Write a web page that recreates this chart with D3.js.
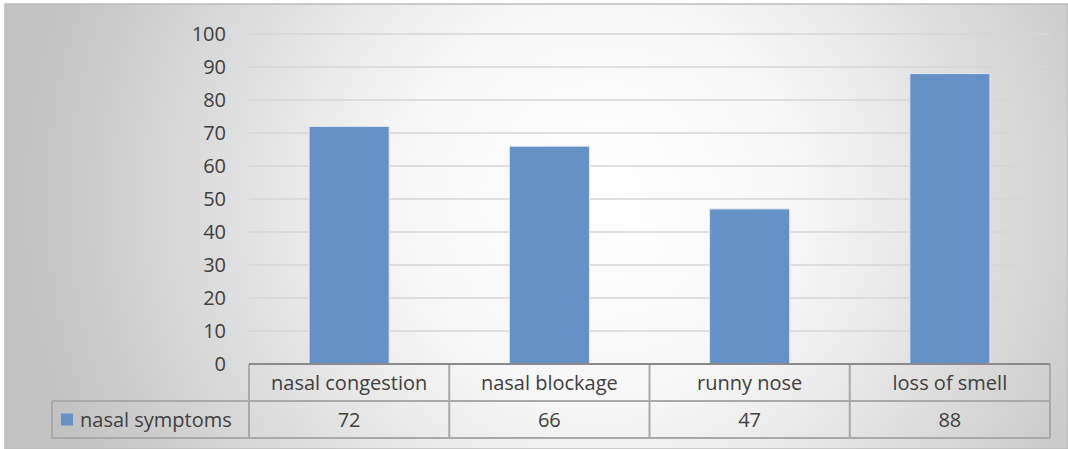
<!DOCTYPE html>
<html>
<head>
<meta charset="utf-8">
<script src="https://cdn.jsdelivr.net/npm/d3@7"></script>
<style>
  body { margin: 0; background: #fff; }
  text { font-family: 'Open Sans', sans-serif; fill: #404040; }
</style>
</head>
<body>
<div id="root"></div>
<script>
var categories = ['nasal congestion', 'nasal blockage', 'runny nose', 'loss of smell'];
var values = [72, 66, 47, 88];
var seriesName = 'nasal symptoms';
var yTicks = [0, 10, 20, 30, 40, 50, 60, 70, 80, 90, 100];

var W = 1068, H = 449;
var margin = { top: 34, right: 18, bottom: 85, left: 249 },
  width = W - margin.left - margin.right,
  height = H - margin.top - margin.bottom;
var rowH = 37;
var fs = '20px';

var svg = d3.select('#root')
  .append('svg')
    .attr('width', W)
    .attr('height', H);

var grad = svg.append('defs').append('radialGradient')
  .attr('id', 'bg')
  .attr('gradientUnits', 'userSpaceOnUse')
  .attr('cx', 600).attr('cy', 200).attr('r', 580);
grad.append('stop').attr('offset', '0%').attr('stop-color', '#ffffff');
grad.append('stop').attr('offset', '35%').attr('stop-color', '#f7f7f7');
grad.append('stop').attr('offset', '100%').attr('stop-color', '#c2c2c2');

svg.append('rect')
  .attr('x', 5).attr('y', 4)
  .attr('width', W - 5).attr('height', H - 4)
  .attr('fill', 'url(#bg)')
  .attr('stroke', '#bcbcbc')
  .attr('stroke-width', 1.5);

var g = svg.append('g')
  .attr('transform', 'translate(' + margin.left + ', ' + margin.top + ')');

var yScale = d3.scaleLinear()
  .domain([0, 100])
  .range([height, 0]);

var xScale = d3.scaleBand()
  .domain(categories)
  .range([0, width])
  .paddingInner(0.6)
  .paddingOuter(0.3);

var colScale = d3.scaleBand()
  .domain(categories)
  .range([0, width]);

// gridlines
g.append('g')
  .attr('class', 'grid')
  .selectAll('line')
  .data(yTicks.filter(t => t > 0))
  .enter()
  .append('line')
    .attr('x1', 0)
    .attr('x2', width)
    .attr('y1', t => yScale(t))
    .attr('y2', t => yScale(t))
    .attr('stroke', '#d6d6d6')
    .attr('stroke-width', 1.5);

var yAxisCall = d3.axisLeft(yScale)
  .tickValues(yTicks)
  .tickSize(0)
  .tickPadding(23);

var yAxis = g.append('g')
  .attr('class', 'y-axis')
  .call(yAxisCall);
yAxis.select('.domain').remove();
yAxis.selectAll('text')
  .attr('font-size', fs)
  .attr('font-family', "'Open Sans', sans-serif")
  .attr('fill', '#404040');

// bars
g.selectAll('rect.bar')
  .data(values)
  .enter()
  .append('rect')
    .attr('class', 'bar')
    .attr('x', (d, i) => xScale(categories[i]))
    .attr('y', d => yScale(d))
    .attr('width', xScale.bandwidth())
    .attr('height', d => height - yScale(d))
    .attr('fill', '#6591c7')
    .attr('stroke', '#dfe8f3')
    .attr('stroke-width', 1);

// data table
var legendLeft = 52 - margin.left;
var tbl = g.append('g').attr('class', 'table');
var bc = '#a9a9a9';

tbl.append('line')
  .attr('x1', legendLeft).attr('x2', width)
  .attr('y1', height + rowH).attr('y2', height + rowH)
  .attr('stroke', bc).attr('stroke-width', 2);
tbl.append('line')
  .attr('x1', legendLeft).attr('x2', width)
  .attr('y1', height + 2 * rowH).attr('y2', height + 2 * rowH)
  .attr('stroke', bc).attr('stroke-width', 2);

var vx = [0].concat(categories.map(c => colScale(c) + colScale.bandwidth()));
tbl.selectAll('line.v')
  .data(vx)
  .enter()
  .append('line')
    .attr('class', 'v')
    .attr('x1', d => d).attr('x2', d => d)
    .attr('y1', height).attr('y2', height + 2 * rowH)
    .attr('stroke', bc).attr('stroke-width', 2);
tbl.append('line')
  .attr('x1', legendLeft).attr('x2', legendLeft)
  .attr('y1', height + rowH).attr('y2', height + 2 * rowH)
  .attr('stroke', bc).attr('stroke-width', 2);

tbl.selectAll('text.cat')
  .data(categories)
  .enter()
  .append('text')
    .attr('class', 'cat')
    .attr('x', c => colScale(c) + colScale.bandwidth() / 2)
    .attr('y', height + rowH / 2)
    .attr('dy', '0.35em')
    .attr('text-anchor', 'middle')
    .attr('font-size', fs)
    .text(c => c);

tbl.selectAll('text.val')
  .data(values)
  .enter()
  .append('text')
    .attr('class', 'val')
    .attr('x', (d, i) => colScale(categories[i]) + colScale.bandwidth() / 2)
    .attr('y', height + rowH * 1.5)
    .attr('dy', '0.35em')
    .attr('text-anchor', 'middle')
    .attr('font-size', fs)
    .text(d => d);

// legend key
tbl.append('rect')
  .attr('x', legendLeft + 9)
  .attr('y', height + rowH * 1.5 - 6)
  .attr('width', 12).attr('height', 12)
  .attr('fill', '#6591c7');
tbl.append('text')
  .attr('x', legendLeft + 28)
  .attr('y', height + rowH * 1.5)
  .attr('dy', '0.35em')
  .attr('font-size', fs)
  .text(seriesName);

// x axis line at zero
g.append('line')
  .attr('x1', 0).attr('x2', width)
  .attr('y1', height).attr('y2', height)
  .attr('stroke', '#8a8a8a')
  .attr('stroke-width', 2);
</script>
</body>
</html>
